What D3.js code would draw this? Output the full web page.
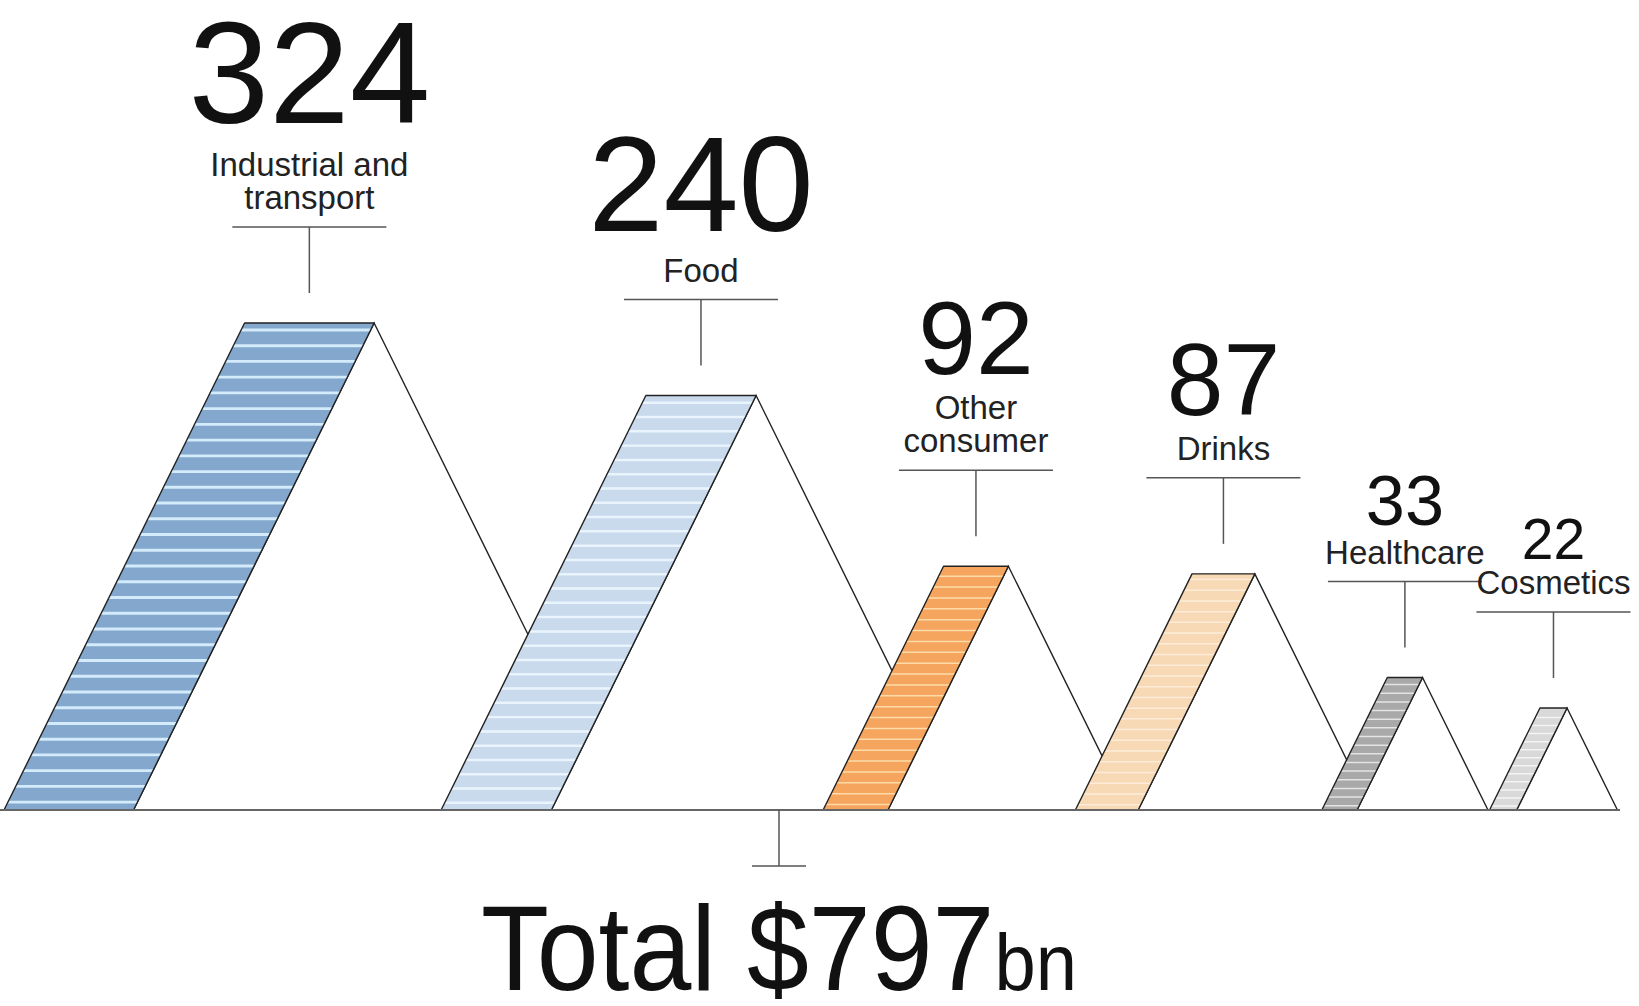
<!DOCTYPE html>
<html>
<head>
<meta charset="utf-8">
<script src="https://cdn.jsdelivr.net/npm/d3@7"></script>
<style>
  body { margin: 0; background: #fff; }
  text { font-family: "Liberation Sans", Arial, sans-serif; }
</style>
</head>
<body>
<script>
// data ($bn)
var categories = ["Industrial and transport", "Food", "Other consumer", "Drinks", "Healthcare", "Cosmetics"];
var labelLines = [["Industrial and", "transport"], ["Food"], ["Other", "consumer"], ["Drinks"], ["Healthcare"], ["Cosmetics"]];
var values = [324, 240, 92, 87, 33, 22];
var totalValue = 797;
var totalUnit = "bn";

var fillColors = ["#84a7cd", "#c9daec", "#f5a55e", "#f8d9b6", "#a9a9a9", "#d9d9d9"];
var stripeColors = ["#d3ebfa", "#eaf4fc", "#fddcaa", "#fdecd8", "#e4e4e4", "#f4f4f4"];

function init() {
    var w = 1639;
    var h = 1006;
    var base = 810;      // ground line
    var gap = 67;        // space between one peak and next foot
    var totalX = 779;
    var stem = 96;

    var svg = d3.select("body")
        .append("svg")
        .attr("width", w)
        .attr("height", h);

    //scales: mountain height by sqrt (area), number size by log
    var hScale = d3.scaleSqrt().domain(d3.extent(values)).range([102, 487]);
    var fScale = d3.scaleLog().domain(d3.extent(values)).range([57, 145]);
    var fill = d3.scaleOrdinal(categories, fillColors);
    var stripe = d3.scaleOrdinal(categories, stripeColors);

    //lay mountains out left to right
    var x = 4;
    var mounts = values.map(function (v, i) {
        var mh = hScale(v);
        var m = {
            cat: categories[i], lines: labelLines[i], value: v,
            x0: x, h: mh, bw: mh * 0.266, off: mh * 0.494, top: base - mh
        };
        m.peak = m.x0 + m.bw + m.off;
        m.cx = m.x0 + m.off + m.bw / 2;
        x = m.peak + gap;
        return m;
    });

    var defs = svg.append("defs");
    var g = svg.selectAll("g.mount")
        .data(mounts)
        .enter()
        .append("g")
        .attr("class", "mount");

    function bandPts(d) {
        return [[d.x0, base], [d.x0 + d.bw, base], [d.peak, d.top], [d.x0 + d.off, d.top]];
    }

    defs.selectAll("clipPath")
        .data(mounts)
        .enter()
        .append("clipPath")
        .attr("id", function (d, i) { return "clip" + i; })
        .append("polygon")
        .attr("points", function (d) { return bandPts(d).join(" "); });

    //white triangle
    g.append("path")
        .attr("d", function (d) {
            return d3.line()([[d.x0 + d.bw, base], [d.peak, d.top], [d.peak + d.off, base]]);
        })
        .attr("fill", "#fff")
        .attr("stroke", "#222")
        .attr("stroke-width", 1.4);

    //coloured band
    g.append("polygon")
        .attr("points", function (d) { return bandPts(d).join(" "); })
        .attr("fill", function (d) { return fill(d.cat); });

    //stripes
    g.append("g")
        .attr("clip-path", function (d, i) { return "url(#clip" + i + ")"; })
        .each(function (d) {
            var step = 6 + d.h * 0.02;
            var ys = d3.range(base - step * 0.5, d.top + 2, -step);
            d3.select(this).selectAll("line")
                .data(ys)
                .enter()
                .append("line")
                .attr("x1", d.x0 - 5)
                .attr("x2", d.peak + 5)
                .attr("y1", function (y) { return y; })
                .attr("y2", function (y) { return y; })
                .attr("stroke", stripe(d.cat))
                .attr("stroke-width", Math.max(1.5, d.h * 0.006));
        });

    g.append("polygon")
        .attr("points", function (d) { return bandPts(d).join(" "); })
        .attr("fill", "none")
        .attr("stroke", "#222")
        .attr("stroke-width", 1.4)
        .attr("stroke-linejoin", "round");

    //ground line
    svg.append("line")
        .attr("x1", 0)
        .attr("x2", 1620)
        .attr("y1", base)
        .attr("y2", base)
        .attr("stroke", "#666")
        .attr("stroke-width", 2);

    //labels
    var lab = svg.selectAll("g.lab")
        .data(mounts)
        .enter()
        .append("g")
        .attr("class", "lab");

    lab.append("line")
        .attr("x1", function (d) { return d.cx - 77; })
        .attr("x2", function (d) { return d.cx + 77; })
        .attr("y1", function (d) { return d.top - stem; })
        .attr("y2", function (d) { return d.top - stem; })
        .attr("stroke", "#555")
        .attr("stroke-width", 1.5);

    lab.append("line")
        .attr("x1", function (d) { return d.cx; })
        .attr("x2", function (d) { return d.cx; })
        .attr("y1", function (d) { return d.top - stem; })
        .attr("y2", function (d) { return d.top - 30; })
        .attr("stroke", "#555")
        .attr("stroke-width", 1.5);

    lab.each(function (d) {
        var lineH = 33;
        var last = d.top - stem - 18;
        var first = last - (d.lines.length - 1) * lineH;
        d3.select(this).selectAll("text.cat")
            .data(d.lines)
            .enter()
            .append("text")
            .attr("class", "cat")
            .attr("x", d.cx)
            .attr("y", function (t, j) { return first + j * lineH; })
            .attr("text-anchor", "middle")
            .attr("font-size", 33)
            .attr("fill", "#222")
            .text(function (t) { return t; });

        var fs = fScale(d.value);
        d3.select(this).append("text")
            .attr("x", d.cx)
            .attr("y", first - 24 - fs * 0.2)
            .attr("text-anchor", "middle")
            .attr("font-size", fs)
            .attr("fill", "#111")
            .text(d.value);
    });

    //total
    svg.append("line")
        .attr("x1", totalX).attr("x2", totalX)
        .attr("y1", base).attr("y2", base + 56)
        .attr("stroke", "#555").attr("stroke-width", 1.5);
    svg.append("line")
        .attr("x1", totalX - 27).attr("x2", totalX + 27)
        .attr("y1", base + 56).attr("y2", base + 56)
        .attr("stroke", "#555").attr("stroke-width", 1.5);

    var tt = svg.append("text")
        .attr("x", totalX - 298)
        .attr("y", 990)
        .attr("font-size", 120)
        .attr("fill", "#111")
        .attr("textLength", 596)
        .attr("lengthAdjust", "spacingAndGlyphs");
    tt.append("tspan").text("Total $" + totalValue);
    tt.append("tspan").attr("font-size", 80).text(totalUnit);
}
window.onload = init;
</script>
</body>
</html>
